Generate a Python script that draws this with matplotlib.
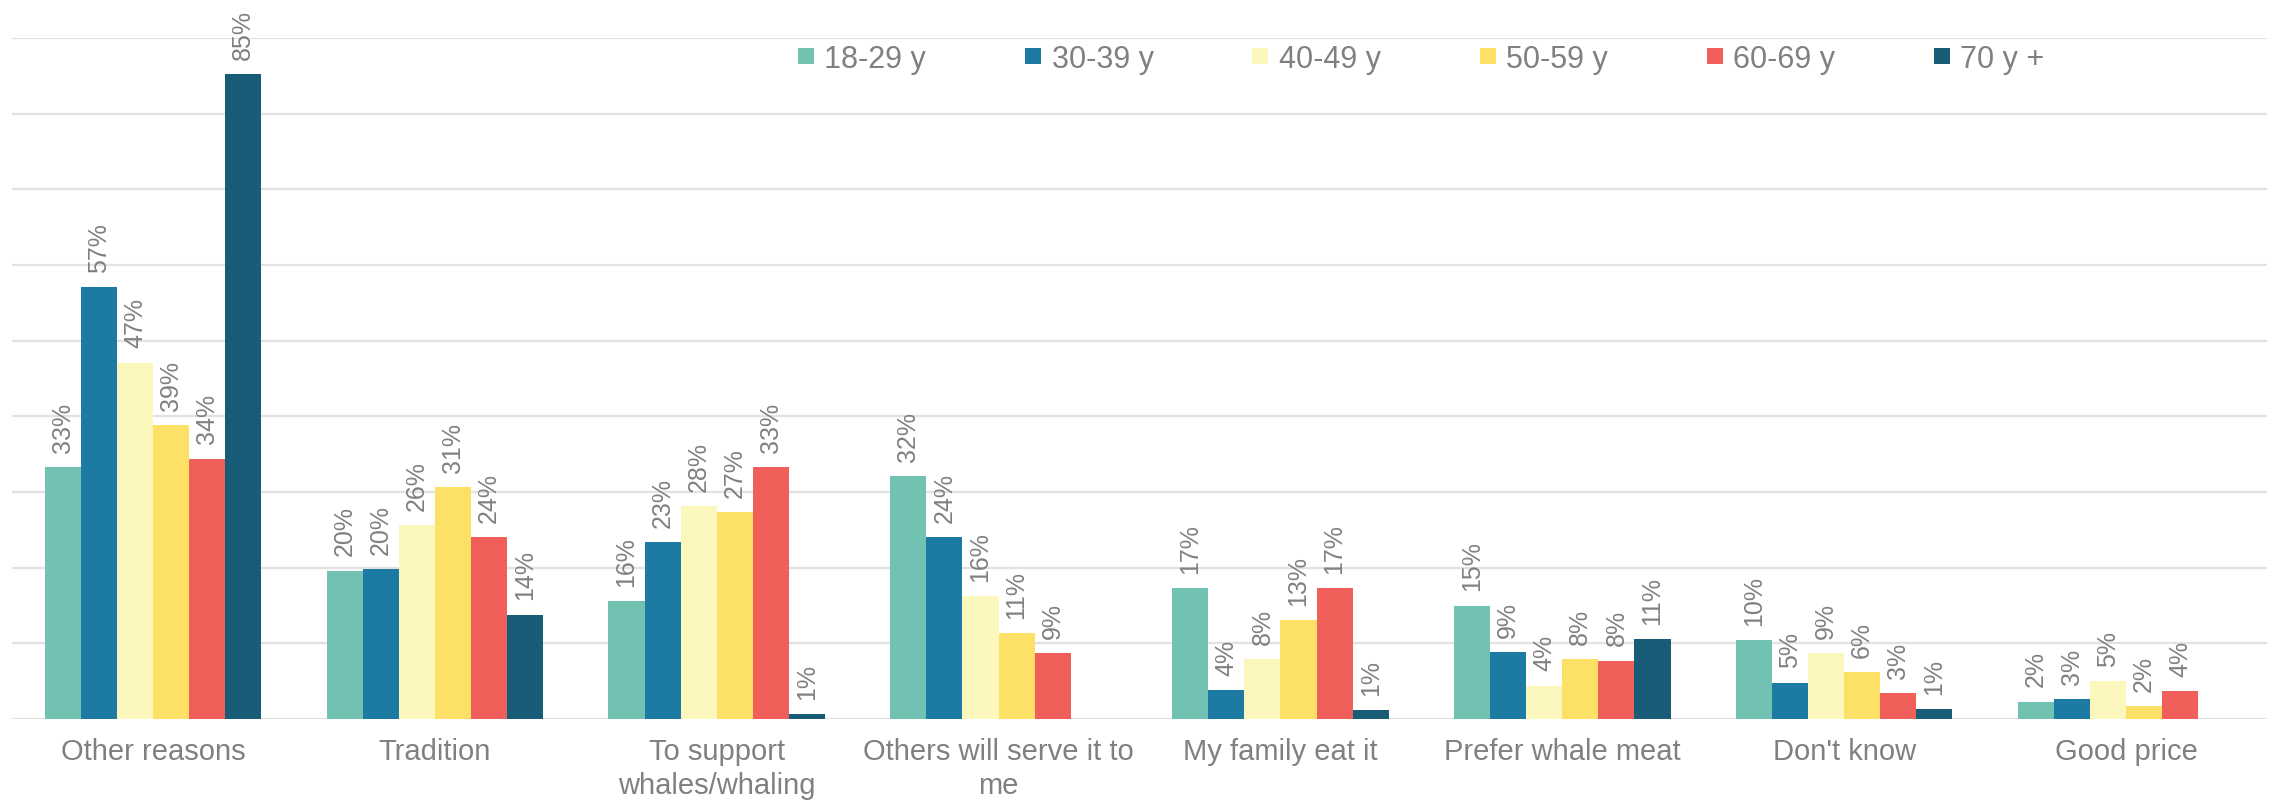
import matplotlib
matplotlib.use('Agg')

import numpy as np
import matplotlib.pyplot as plt
from matplotlib.lines import Line2D

# ======================== Data ========================
categories = ["Other reasons", "Tradition", "To support\nwhales/whaling",
              "Others will serve it to\nme", "My family eat it",
              "Prefer whale meat", "Don't know", "Good price"]

series_names = ["18-29 y", "30-39 y", "40-49 y", "50-59 y", "60-69 y", "70 y +"]

# values in percent (nan = no bar / no label)
age_18_29 = [33.3, 19.6, 15.6, 32.1, 17.3, 15.0, 10.4, 2.3]
age_30_39 = [57.1, 19.8, 23.4, 24.0, 3.8, 8.8, 4.8, 2.6]
age_40_49 = [47.1, 25.6, 28.1, 16.2, 7.9, 4.4, 8.7, 5.0]
age_50_59 = [38.8, 30.6, 27.3, 11.3, 13.1, 7.9, 6.2, 1.7]
age_60_69 = [34.4, 24.0, 33.3, 8.7, 17.3, 7.7, 3.4, 3.7]
age_70_up = [85.2, 13.8, 0.6, np.nan, 1.2, 10.6, 1.3, np.nan]

# ======================== Style ========================
COLORS = ["#71C2B3", "#1D7BA3", "#FCF7BD", "#FDE066", "#F05F5A", "#185C78"]
TEXT_COLOR = "#808080"
GRID_COLOR = "#E2E2E2"
BAR_WIDTH = 0.128
FONT = "Liberation Sans"

plt.rcParams['font.family'] = [FONT, 'DejaVu Sans']

all_series = [age_18_29, age_30_39, age_40_49, age_50_59, age_60_69, age_70_up]

fig = plt.figure(figsize=(22.77, 8.03), dpi=100)
ax = fig.add_axes([12 / 2277, 1 - 720 / 803, 2255 / 2277, (720 - 39) / 803])

x = np.arange(len(categories))
n = len(all_series)
for i, (vals, color) in enumerate(zip(all_series, COLORS)):
    offs = (i - (n - 1) / 2) * BAR_WIDTH
    vals = np.array(vals, dtype=float)
    ax.bar(x + offs, np.nan_to_num(vals), width=BAR_WIDTH, color=color,
           zorder=3, linewidth=0)
    for xi, v in zip(x + offs, vals):
        if np.isnan(v):
            continue
        ax.annotate(f"{v:.0f}%", xy=(xi, v), xytext=(0, 11),
                    textcoords='offset points', rotation=90,
                    ha='center', va='bottom', fontsize=18,
                    color=TEXT_COLOR, annotation_clip=False)

ax.set_xlim(-0.5, len(categories) - 0.5)
ax.set_ylim(0, 90)
ax.set_yticks(np.arange(0, 91, 10))
ax.yaxis.grid(True, color=GRID_COLOR, linewidth=1.6, zorder=0)
ax.set_axisbelow(True)
ax.tick_params(axis='y', left=False, labelleft=False)
ax.set_xticks(x)
ax.set_xticklabels(categories, fontsize=21, color=TEXT_COLOR, linespacing=1.25)
ax.tick_params(axis='x', length=0, pad=13)
for s in ax.spines.values():
    s.set_visible(False)

# legend across the top
handles = [Line2D([0], [0], marker='s', linestyle='none', markersize=11.5,
                  markerfacecolor=c, markeredgewidth=0, label=lab)
           for c, lab in zip(COLORS, series_names)]
fig.legend(handles=handles, loc='center left', bbox_to_anchor=(797 / 2277, 1 - 60 / 803),
           ncol=6, frameon=False, fontsize=22, labelcolor=TEXT_COLOR,
           handlelength=0.6, handletextpad=0.3, columnspacing=3.2,
           borderpad=0, borderaxespad=0)

fig.savefig("out.png", dpi=100)
